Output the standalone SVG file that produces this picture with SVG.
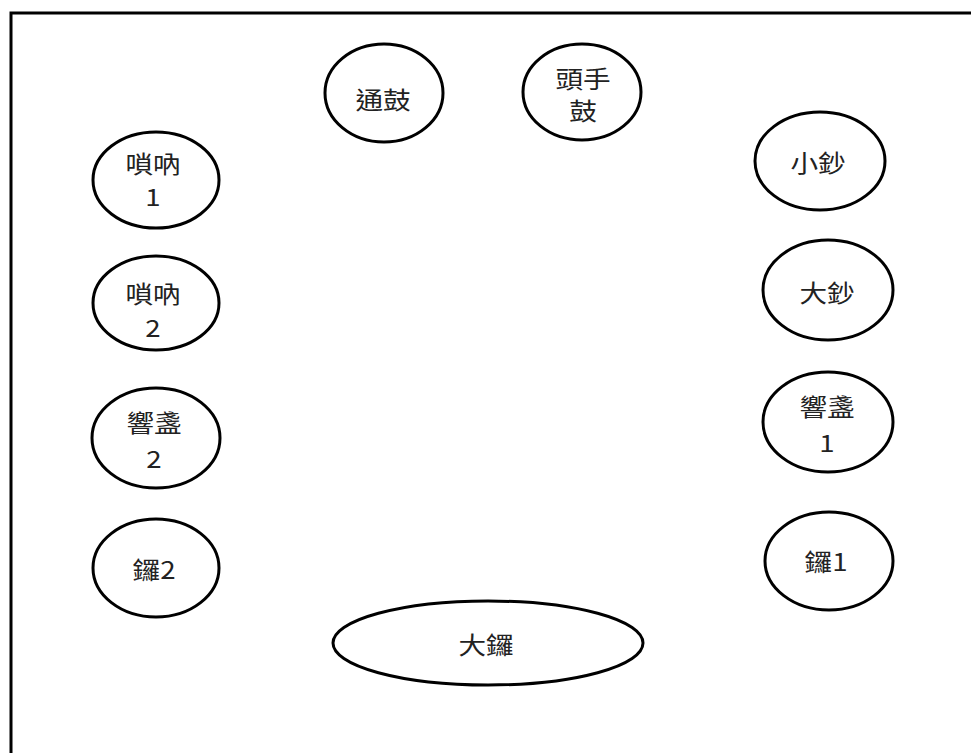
<svg xmlns="http://www.w3.org/2000/svg" width="971" height="753" viewBox="0 0 971 753">
<style>
.n ellipse{fill:#fff;stroke:#000;stroke-width:3}
.n text{font-family:"Noto Sans CJK TC","Noto Sans CJK SC",sans-serif;font-size:24px;fill:#222;text-anchor:middle;dominant-baseline:central}
</style>
<rect width="971" height="753" fill="#fff"/>
<path d="M11,753 V13 H971" fill="none" stroke="#000" stroke-width="3"/>
<g id="connectors"></g>
<g id="tonggu" class="n"><ellipse cx="384" cy="93" rx="59" ry="49"/><text transform="translate(383 98) scale(1.15 1)">通鼓</text></g>
<g id="toushougu" class="n"><ellipse cx="582" cy="92" rx="59" ry="48"/><text transform="translate(583 77) scale(1.15 1)">頭手</text><text transform="translate(583 109) scale(1.15 1)">鼓</text></g>
<g id="suona1" class="n"><ellipse cx="156" cy="180" rx="63" ry="48"/><text transform="translate(153 162) scale(1.15 1)">嗩吶</text><text transform="translate(153 195) scale(1.15 1)">1</text></g>
<g id="suona2" class="n"><ellipse cx="156" cy="303" rx="63" ry="47"/><text transform="translate(153 292) scale(1.15 1)">嗩吶</text><text transform="translate(153 326) scale(1.15 1)">2</text></g>
<g id="xiangzhan2" class="n"><ellipse cx="156" cy="438" rx="64" ry="50"/><text transform="translate(154 421) scale(1.15 1)">響盞</text><text transform="translate(154 457) scale(1.15 1)">2</text></g>
<g id="luo2" class="n"><ellipse cx="156" cy="568" rx="63" ry="49"/><text transform="translate(154 568) scale(1.15 1)">鑼2</text></g>
<g id="xiaochao" class="n"><ellipse cx="820" cy="161" rx="65" ry="49"/><text transform="translate(818 161) scale(1.15 1)">小鈔</text></g>
<g id="dachao" class="n"><ellipse cx="828" cy="290" rx="65" ry="50"/><text transform="translate(827 291) scale(1.15 1)">大鈔</text></g>
<g id="xiangzhan1" class="n"><ellipse cx="828" cy="422" rx="65" ry="50"/><text transform="translate(827 405) scale(1.15 1)">響盞</text><text transform="translate(827 441) scale(1.15 1)">1</text></g>
<g id="luo1" class="n"><ellipse cx="829" cy="561" rx="64" ry="49"/><text transform="translate(826 560) scale(1.15 1)">鑼1</text></g>
<g id="daluo" class="n"><ellipse cx="488" cy="643" rx="155" ry="42"/><text transform="translate(486 643) scale(1.15 1)">大鑼</text></g>
</svg>
